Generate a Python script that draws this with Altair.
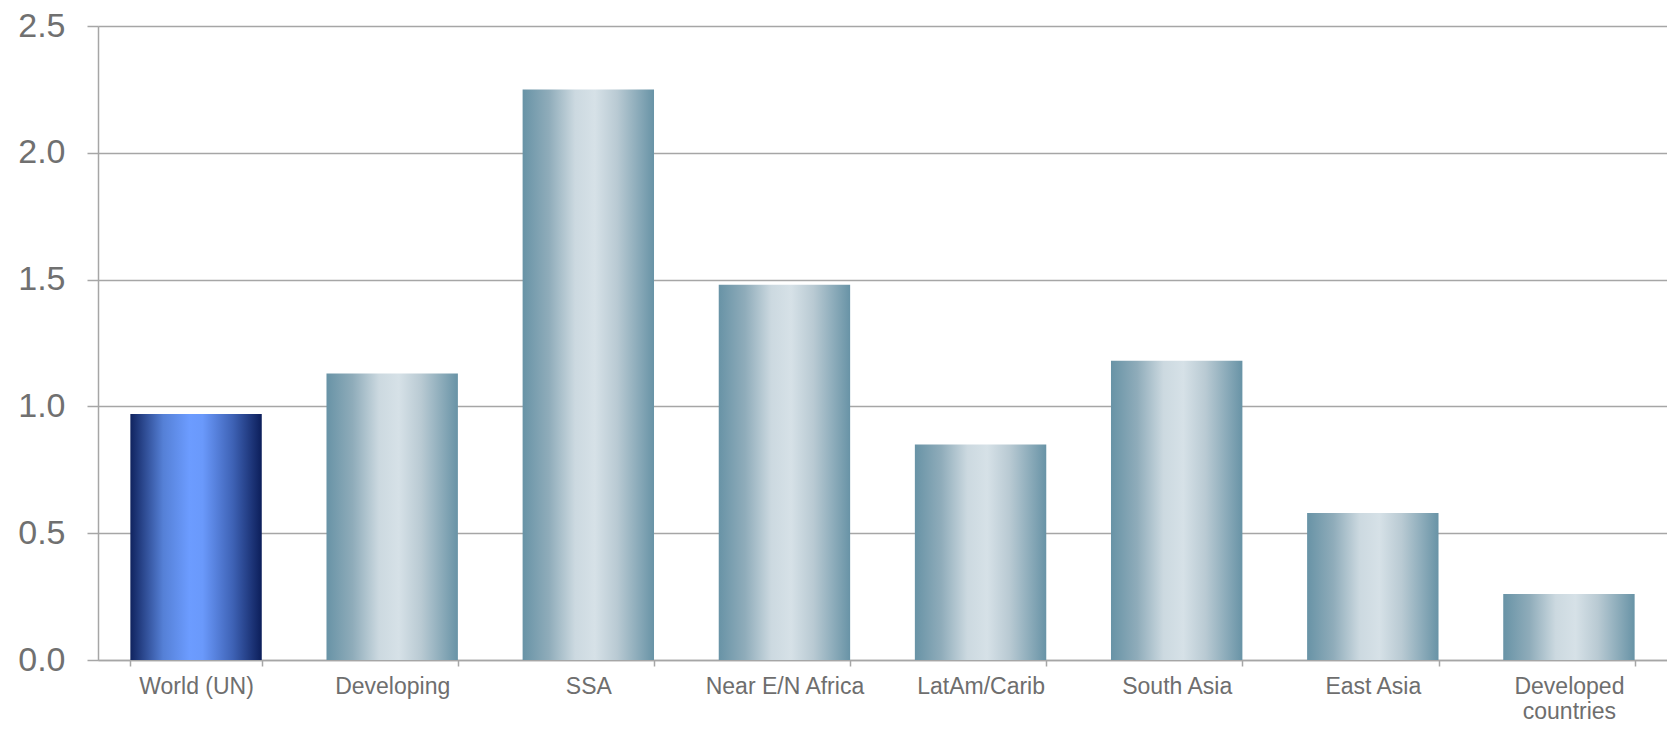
import altair as alt
import pandas as pd

categories = ["World (UN)", "Developing", "SSA", "Near E/N Africa", "LatAm/Carib",
              "South Asia", "East Asia", "Developed countries"]
values = [0.97, 1.13, 2.25, 1.48, 0.85, 1.18, 0.58, 0.26]
highlight = ["World (UN)"]
y_ticks = [0.0, 0.5, 1.0, 1.5, 2.0, 2.5]

df = pd.DataFrame({"category": categories, "value": values})
df["hl"] = df["category"].isin(highlight)

teal = alt.Gradient(
    gradient="linear", x1=0, x2=1, y1=0, y2=0,
    stops=[
        alt.GradientStop(offset=0, color="#6893A6"),
        alt.GradientStop(offset=0.2, color="#8FACBA"),
        alt.GradientStop(offset=0.4, color="#CCD9E0"),
        alt.GradientStop(offset=0.55, color="#D6E1E7"),
        alt.GradientStop(offset=0.72, color="#B9CAD3"),
        alt.GradientStop(offset=1, color="#6893A6"),
    ],
)
blue = alt.Gradient(
    gradient="linear", x1=0, x2=1, y1=0, y2=0,
    stops=[
        alt.GradientStop(offset=0, color="#10235F"),
        alt.GradientStop(offset=0.25, color="#5580D6"),
        alt.GradientStop(offset=0.45, color="#6C9CFF"),
        alt.GradientStop(offset=0.55, color="#6A99FB"),
        alt.GradientStop(offset=0.78, color="#3E62B5"),
        alt.GradientStop(offset=1, color="#0C1E5A"),
    ],
)

x_enc = alt.X(
    "category:N", sort=categories, title=None,
    scale=alt.Scale(paddingInner=0.33, paddingOuter=0.165),
    axis=alt.Axis(
        labelAngle=0, labelFont="Liberation Sans", labelFontSize=23,
        labelColor="#6E6E6E", labelPadding=9, labelLineHeight=25,
        labelExpr="datum.value == 'Developed countries' ? ['Developed', 'countries'] : datum.value",
        tickBand="extent", tickSize=6, tickColor="#A6A6A6", tickWidth=1.5,
        domainColor="#A6A6A6", domainWidth=1.5, grid=False,
    ),
)
y_enc = alt.Y(
    "value:Q", title=None,
    scale=alt.Scale(domain=[0, 2.5], nice=False),
    axis=alt.Axis(
        values=y_ticks, format=".1f", labelFont="Liberation Sans", labelFontSize=34,
        labelColor="#707070", labelPadding=22, tickSize=11, tickColor="#A6A6A6",
        tickWidth=1.5, domainColor="#A6A6A6", domainWidth=1.5,
        grid=True, gridColor="#A6A6A6", gridWidth=1.5,
    ),
)

base = alt.Chart(df)
bars_other = base.transform_filter("!datum.hl").mark_bar(color=teal).encode(x=x_enc, y=y_enc)
bars_hl = base.transform_filter("datum.hl").mark_bar(color=blue).encode(x=x_enc, y=y_enc)

chart = alt.layer(bars_other, bars_hl).properties(
    width=1569, height=634,
    padding={"left": 90, "top": 18, "right": 0, "bottom": 62},
    autosize=alt.AutoSizeParams(type="none"),
).configure_view(stroke=None).configure(background="white")

chart.save("out.html", embed_options={"renderer": "svg", "actions": False})
